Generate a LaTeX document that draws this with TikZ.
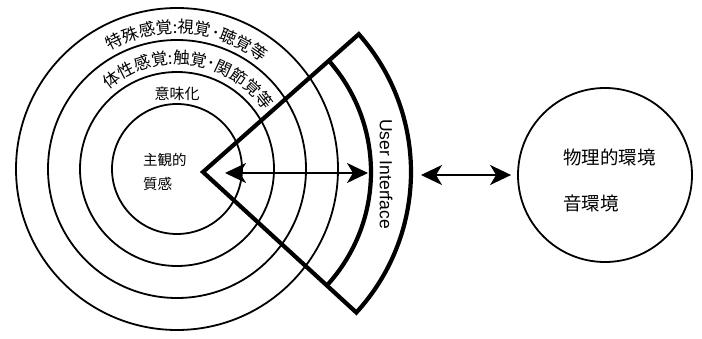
\documentclass[tikz,border=0pt]{standalone}
\usepackage{fontspec}
\setmainfont{Liberation Sans}
\newfontfamily\jp{Noto Sans CJK JP}
\usepackage{tikz}
\usetikzlibrary{arrows.meta,decorations.text,calc}

\begin{document}
\begin{tikzpicture}[x=1pt,y=1pt,
    ring/.style={line width=1.8pt},
    frame/.style={line width=4.2pt,line join=miter},
    link/.style={line width=2pt,
                 {Stealth[length=21pt,width=20pt,inset=6pt]}-{Stealth[length=21pt,width=20pt,inset=6pt]}},
    jtext/.style={inner sep=0pt,align=left}]
  \useasboundingbox (0,0) rectangle (702,338);

  \coordinate (c) at (177,169);
  \foreach \r in {65,97,129,161}
    \draw[ring] (c) circle[radius=\r];

  \coordinate (v) at (203,166);
  \draw[frame] (v) -- ++(41.5:208) arc[start angle=41.5,end angle=-42.5,radius=208] -- cycle;
  \draw[frame] ($(v)+(41.5:168)$) arc[start angle=41.5,end angle=-42.5,radius=168];

  \path[decorate,decoration={text along path,text align=fit to path,
        text={|\jp\fontsize{16.5}{16.5}\selectfont|特殊感覚:視覚･聴覚等}}]
    ($(c)+(119.6:136)$) arc[start angle=119.6,end angle=53.2,radius=136];
  \path[decorate,decoration={text along path,text align=fit to path,
        text={|\jp\fontsize{16.5}{16.5}\selectfont|体性感覚:触覚･関節覚等}}]
    ($(c)+(130.6:105)$) arc[start angle=130.6,end angle=33.5,radius=105];

  \node[jtext,font=\jp\fontsize{15}{15}\selectfont] (meaning) at (177,244) {意味化};
  \node[jtext,anchor=west,font=\jp\fontsize{14.5}{24}\selectfont] (self) at (143,166) {主観的\\質感};

  \node[rotate=-90,inner sep=0pt,font=\fontsize{17.5}{17.5}\selectfont] (ui) at (386,164) {User Interface};

  \node[circle,draw,ring,minimum size=174pt,inner sep=0pt] (env) at (605,163) {};
  \node[jtext,anchor=west,font=\jp\fontsize{18.5}{46}\selectfont] (world) at (563,158) {物理的環境\\音環境};

  \coordinate (inner) at (225,165);
  \coordinate (uiin) at (368,165);
  \coordinate (uiout) at (421,163);
  \draw[link] (inner) -- (uiin);
  \draw[link] (uiout) -- ([xshift=-6pt]env.west);
\end{tikzpicture}
\end{document}
